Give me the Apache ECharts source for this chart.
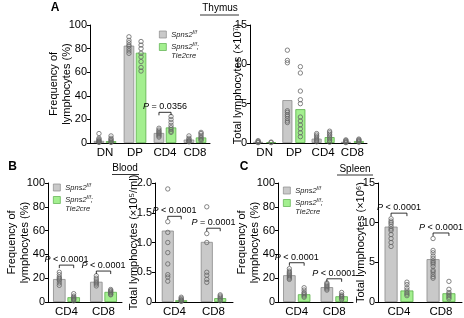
<!DOCTYPE html>
<html>
<head>
<meta charset="utf-8">
<script src="https://cdn.jsdelivr.net/npm/echarts@6/dist/echarts.min.js"></script>
<style>
  html, body { margin: 0; padding: 0; background: #fff; }
  #chart { width: 464px; height: 318px; }
</style>
</head>
<body>
<div id="chart"></div>
<script>
// categories
const thyCats = ["DN", "DP", "CD4", "CD8"];
const tCats = ["CD4", "CD8"];

// A: thymus, frequency (%)
const thyFreqCtrl = [1.8, 82.5, 8.5, 2.9];
const thyFreqKo = [1.6, 76.5, 13.2, 4.7];
const thyFreqCtrlDots = [[8, 4, 3, 2, 1.5, 1, 0.5], [90, 87, 85, 83, 82, 80, 78, 76], [12.5, 11, 10, 9, 8, 7, 6, 5], [6, 4, 3, 2, 1.5, 1]];
const thyFreqKoDots = [[6, 4, 3, 2, 1, 0.5], [86, 83, 80, 76, 73, 69, 64, 61], [22.5, 20, 17.5, 15, 13, 11.5, 10, 9], [9, 8, 6.5, 5, 4, 3, 2]];
const thyFreqP = ["P = 0.0356"];
const thyFreqPCat = [2];
const thyFreqPLevel = [26];

// A: thymus, total (x10^7)
const thyTotCtrl = [0.15, 5.45, 0.55, 0.15];
const thyTotKo = [0.1, 4.3, 0.75, 0.25];
const thyTotCtrlDots = [[0.3, 0.2, 0.1, 0.05], [11.8, 10.5, 10.2, 4.1, 3.9, 3.6, 3.4, 3.1, 2.8, 2.6], [1.2, 1.0, 0.8, 0.6, 0.45, 0.3, 0.15], [0.4, 0.3, 0.2, 0.1, 0.05]];
const thyTotKoDots = [[0.12, 0.05], [9.7, 8.9, 6.6, 5.5, 5.0, 3.3, 2.8, 2.3, 1.8, 1.3, 0.8], [1.5, 1.3, 1.1, 0.9, 0.7, 0.5, 0.3, 0.1], [0.5, 0.4, 0.3, 0.2, 0.1]];

// B: blood
const bloodFreqCtrl = [19.3, 17];
const bloodFreqKo = [4, 8.5];
const bloodFreqCtrlDots = [[25, 23, 21, 20, 19, 18, 16, 14], [22, 20, 18.5, 17, 16, 15, 13.5]];
const bloodFreqKoDots = [[7, 5, 4, 3, 2.5, 2, 1], [10.5, 9.5, 9, 8, 7.5, 6.5, 6]];
const bloodFreqP = ["P < 0.0001", "P < 0.0001"];
const bloodFreqPLevel = [31, 26];

const bloodTotCtrl = [1.2, 1.01];
const bloodTotKo = [0.03, 0.065];
const bloodTotCtrlDots = [[1.9, 1.35, 1.17, 1.0, 0.83, 0.64, 0.46, 0.42, 0.35], [1.6, 1.15, 1.0, 0.5, 0.45, 0.38, 0.33]];
const bloodTotKoDots = [[0.08, 0.06, 0.04, 0.03, 0.02, 0.01], [0.12, 0.1, 0.08, 0.06, 0.04, 0.02]];
const bloodTotP = ["P < 0.0001", "P = 0.0001"];
const bloodTotPLevel = [1.44, 1.24];

// C: spleen
const spleenFreqCtrl = [22.5, 12.5];
const spleenFreqKo = [6.5, 4.8];
const spleenFreqCtrlDots = [[28, 26, 25, 24, 23, 22, 21, 20, 19], [16, 15, 14, 13, 12, 11, 10]];
const spleenFreqKoDots = [[12, 10, 8, 7, 6, 5, 4], [8, 6, 5, 4.5, 4, 3, 2]];
const spleenFreqP = ["P < 0.0001", "P < 0.0001"];
const spleenFreqPLevel = [33, 19.5];

const spleenTotCtrl = [9.5, 5.4];
const spleenTotKo = [1.45, 1.1];
const spleenTotCtrlDots = [[10.5, 10.2, 10, 9.8, 9.5, 9.2, 9, 8.5, 8, 7.5, 7], [8, 6.5, 6.2, 5.8, 5.5, 5.2, 5, 4.8, 4.5, 4, 3.8, 3.5, 3.2, 3]];
const spleenTotKoDots = [[2.5, 2.2, 1.8, 1.5, 1.2, 1, 0.8], [2.6, 1.6, 1.2, 1, 0.8, 0.6, 0.4]];
const spleenTotP = ["P < 0.0001", "P < 0.0001"];
const spleenTotPLevel = [11.2, 8.7];

const FONT = '"Liberation Sans", Arial, sans-serif';
const freqName = "Frequency of\nlymphocytes (%)";

const panels = [
  { grid: { left: 90, top: 25, width: 120, height: 118 }, cats: thyCats, max: 100, interval: 20,
    ctrl: thyFreqCtrl, ko: thyFreqKo, ctrlDots: thyFreqCtrlDots, koDots: thyFreqKoDots,
    pText: thyFreqP, pCat: thyFreqPCat, pLevel: thyFreqPLevel,
    bw: 10.5, gap: 0.15, name: freqName, nameGap: 17, legend: { left: 159, top: 30 } },
  { grid: { left: 250, top: 25, width: 117, height: 118 }, cats: thyCats, max: 15, interval: 5,
    ctrl: thyTotCtrl, ko: thyTotKo, ctrlDots: thyTotCtrlDots, koDots: thyTotKoDots,
    pText: [], pCat: [], pLevel: [],
    bw: 10, gap: 0.3, name: "Total lymphocytes (×10⁷)", nameGap: 6 },
  { grid: { left: 48, top: 183, width: 74, height: 119 }, cats: tCats, max: 100, interval: 20,
    ctrl: bloodFreqCtrl, ko: bloodFreqKo, ctrlDots: bloodFreqCtrlDots, koDots: bloodFreqKoDots,
    pText: bloodFreqP, pCat: [0, 1], pLevel: bloodFreqPLevel,
    bw: 12.5, gap: 0.15, name: freqName, nameGap: 17, legend: { left: 53, top: 183 } },
  { grid: { left: 155, top: 183, width: 78, height: 119 }, cats: tCats, max: 2, interval: 0.5,
    ctrl: bloodTotCtrl, ko: bloodTotKo, ctrlDots: bloodTotCtrlDots, koDots: bloodTotKoDots,
    pText: bloodTotP, pCat: [0, 1], pLevel: bloodTotPLevel,
    bw: 12, gap: 0.12, name: "Total lymphocytes (×10⁵/ml)", nameGap: 15,
    fmt: v => (v === 0 ? "0" : v.toFixed(1)) },
  { grid: { left: 278, top: 183, width: 75, height: 119 }, cats: tCats, max: 100, interval: 20,
    ctrl: spleenFreqCtrl, ko: spleenFreqKo, ctrlDots: spleenFreqCtrlDots, koDots: spleenFreqKoDots,
    pText: spleenFreqP, pCat: [0, 1], pLevel: spleenFreqPLevel,
    bw: 12.5, gap: 0.18, name: freqName, nameGap: 17, legend: { left: 283, top: 186 } },
  { grid: { left: 378, top: 183, width: 84, height: 119 }, cats: tCats, max: 15, interval: 5,
    ctrl: spleenTotCtrl, ko: spleenTotKo, ctrlDots: spleenTotCtrlDots, koDots: spleenTotKoDots,
    pText: spleenTotP, pCat: [0, 1], pLevel: spleenTotPLevel,
    bw: 13, gap: 0.22, name: "Total lymphocytes (×10⁶)", nameGap: 11 }
];

function dotSeries(i, dots, off) {
  const data = [];
  dots.forEach((arr, c) => arr.forEach(v => data.push([c, v])));
  return {
    type: "custom", xAxisIndex: i, yAxisIndex: i, silent: true, z: 4, data: data,
    renderItem: function (params, api) {
      const p = api.coord([api.value(0), api.value(1)]);
      return { type: "circle", shape: { cx: p[0] + off, cy: p[1], r: 2.2 },
        style: { fill: "none", stroke: "#666", lineWidth: 0.8 } };
    }
  };
}

function bracketSeries(i, p, off) {
  const data = p.pCat.map((c, k) => [c, p.pLevel[k]]);
  return {
    type: "custom", xAxisIndex: i, yAxisIndex: i, silent: true, z: 5, data: data,
    renderItem: function (params, api) {
      const c = api.coord([api.value(0), api.value(1)]);
      const x1 = c[0] - off, x2 = c[0] + off, y = c[1];
      const label = p.pText[params.dataIndex];
      return {
        type: "group",
        children: [
          { type: "polyline", shape: { points: [[x1, y + 3], [x1, y], [x2, y], [x2, y + 3]] },
            style: { stroke: "#000", fill: null, lineWidth: 0.8 } },
          { type: "text", x: c[0], y: y - 1,
            style: { text: "{i|P}{n|" + label.slice(1) + "}", align: "center", verticalAlign: "bottom",
              rich: { i: { fontStyle: "italic", fontSize: 9, fontFamily: FONT, fill: "#000" },
                      n: { fontSize: 9, fontFamily: FONT, fill: "#000" } } } }
        ]
      };
    }
  };
}

const grid = [], xAxis = [], yAxis = [], series = [], legend = [];
panels.forEach((p, i) => {
  grid.push(p.grid);
  xAxis.push({
    type: "category", gridIndex: i, data: p.cats,
    axisTick: { show: false },
    axisLine: { lineStyle: { color: "#000", width: 1 } },
    axisLabel: { color: "#000", fontSize: 11.5, fontFamily: FONT, margin: 4, interval: 0 }
  });
  yAxis.push({
    type: "value", gridIndex: i, min: 0, max: p.max, interval: p.interval,
    splitLine: { show: false },
    axisLine: { show: true, lineStyle: { color: "#000", width: 1 } },
    axisTick: { show: true, length: 3, lineStyle: { color: "#000" } },
    axisLabel: { color: "#000", fontSize: 11, fontFamily: FONT, margin: 3, formatter: p.fmt },
    name: p.name, nameLocation: "middle", nameGap: p.nameGap, nameMoveOverlap: false,
    nameTextStyle: { color: "#000", fontSize: 11, fontFamily: FONT, lineHeight: 13 }
  });
  const off = p.bw * (1 + p.gap) / 2;
  series.push({
    type: "bar", name: "ctrl", xAxisIndex: i, yAxisIndex: i, data: p.ctrl,
    barWidth: p.bw, barGap: Math.round(p.gap * 100) + "%", silent: true,
    itemStyle: { color: "#c9c9c9", borderColor: "#8a8a8a", borderWidth: 0.8 }
  });
  series.push({
    type: "bar", name: "ko", xAxisIndex: i, yAxisIndex: i, data: p.ko,
    barWidth: p.bw, silent: true,
    itemStyle: { color: "#a3ef8f", borderColor: "#5aae4a", borderWidth: 0.8 }
  });
  series.push(dotSeries(i, p.ctrlDots, -off));
  series.push(dotSeries(i, p.koDots, off));
  if (p.pText.length) series.push(bracketSeries(i, p, off));
  if (p.legend) {
    legend.push({
      left: p.legend.left, top: p.legend.top, orient: "vertical", padding: 0,
      icon: "rect", itemWidth: 7, itemHeight: 7, itemGap: 4, selectedMode: false,
      itemStyle: { borderWidth: 0.7 },
      data: ["ctrl", { name: "ko", textStyle: { padding: [9, 0, 0, 0] } }],
      formatter: name => name === "ctrl"
        ? "{i|Spns2}{s|f/f}"
        : "{i|Spns2}{s|f/f}{i|;}\n{i|Tie2cre}",
      textStyle: {
        fontSize: 7.5, fontFamily: FONT, color: "#222",
        rich: {
          i: { fontStyle: "italic", fontSize: 7.5, fontFamily: FONT, color: "#222", lineHeight: 9 },
          s: { fontStyle: "italic", fontSize: 5, fontFamily: FONT, color: "#222", verticalAlign: "top", lineHeight: 9 }
        }
      }
    });
  }
});

const chart = echarts.init(document.getElementById("chart"), null, { renderer: "canvas" });
chart.setOption({
  animation: false,
  backgroundColor: "#fff",
  grid: grid, xAxis: xAxis, yAxis: yAxis, series: series, legend: legend,
  graphic: [
    { type: "text", x: 55, y: 8, style: { text: "A", font: "bold 12px " + FONT, align: "center", verticalAlign: "middle", fill: "#000" } },
    { type: "text", x: 12.5, y: 167, style: { text: "B", font: "bold 12px " + FONT, align: "center", verticalAlign: "middle", fill: "#000" } },
    { type: "text", x: 244, y: 167, style: { text: "C", font: "bold 12px " + FONT, align: "center", verticalAlign: "middle", fill: "#000" } },
    { type: "text", x: 220, y: 8.5, style: { text: "Thymus", font: "10px " + FONT, align: "center", verticalAlign: "middle", fill: "#000" } },
    { type: "line", shape: { x1: 200, y1: 15, x2: 239, y2: 15 }, style: { stroke: "#000", lineWidth: 0.8 } },
    { type: "text", x: 125, y: 168.5, style: { text: "Blood", font: "10px " + FONT, align: "center", verticalAlign: "middle", fill: "#000" } },
    { type: "line", shape: { x1: 112, y1: 174.5, x2: 139, y2: 174.5 }, style: { stroke: "#000", lineWidth: 0.8 } },
    { type: "text", x: 355, y: 169, style: { text: "Spleen", font: "10px " + FONT, align: "center", verticalAlign: "middle", fill: "#000" } },
    { type: "line", shape: { x1: 337, y1: 175, x2: 373, y2: 175 }, style: { stroke: "#000", lineWidth: 0.8 } }
  ]
});
</script>
</body>
</html>
